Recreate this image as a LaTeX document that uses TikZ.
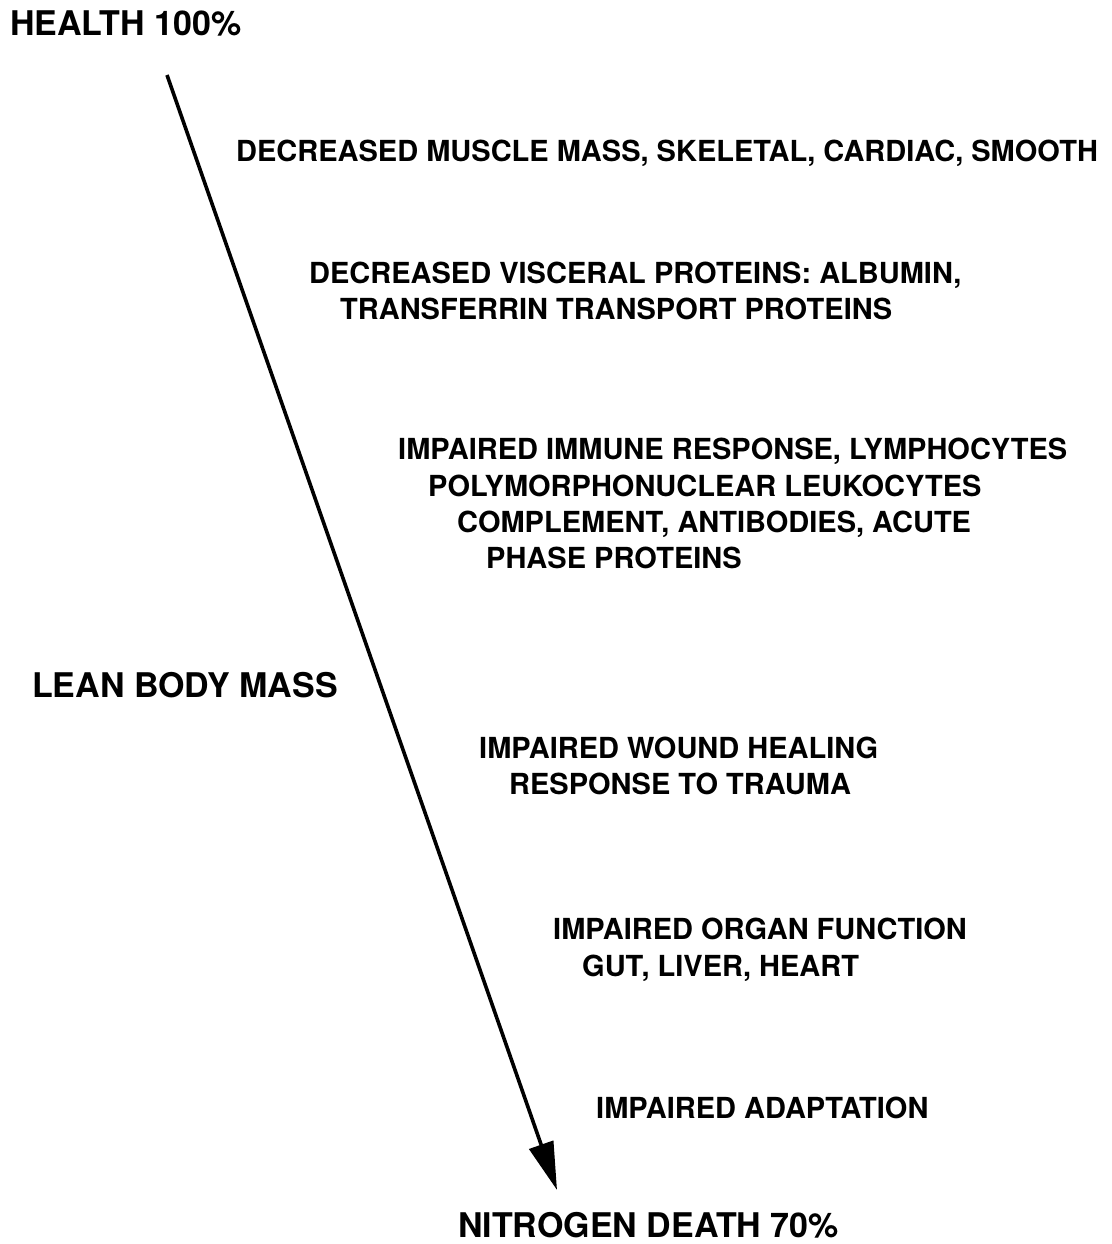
\documentclass[tikz,border=0pt]{standalone}
\usepackage{fontspec}
\setmainfont{TeX Gyre Heros}
\usetikzlibrary{arrows.meta}
\tikzset{
  lbl/.style={anchor=west, inner sep=0pt, text height=0.72em, text depth=0pt,
    font=\fontsize{29}{31}\selectfont\bfseries},
  big/.style={lbl, font=\fontsize{34}{36}\selectfont\bfseries},
  mainarrow/.style={line width=3.6pt, -{Triangle[length=48pt,width=25pt]}}
}
\begin{document}
\begin{tikzpicture}[x=1pt,y=-1pt]
\path[use as bounding box] (0,0) rectangle (1111,1244);
\node[big] (health) at (10,32) {HEALTH 100\%};
\node[big] (lean) at (32,694) {LEAN BODY MASS};
\node[big] (death) at (458,1234) {NITROGEN DEATH 70\%};
\node[lbl] (muscle) at (236,158) {DECREASED MUSCLE MASS, SKELETAL, CARDIAC, SMOOTH};
\node[lbl] (visc1) at (309,280) {DECREASED VISCERAL PROTEINS: ALBUMIN,};
\node[lbl] (visc2) at (340,316) {TRANSFERRIN TRANSPORT PROTEINS};
\node[lbl] (imm1) at (398,456) {IMPAIRED IMMUNE RESPONSE, LYMPHOCYTES};
\node[lbl] (imm2) at (428,493) {POLYMORPHONUCLEAR LEUKOCYTES};
\node[lbl] (imm3) at (457,529) {COMPLEMENT, ANTIBODIES, ACUTE};
\node[lbl] (imm4) at (486,565) {PHASE PROTEINS};
\node[lbl] (wound1) at (479,755) {IMPAIRED WOUND HEALING};
\node[lbl] (wound2) at (509,791) {RESPONSE TO TRAUMA};
\node[lbl] (organ1) at (553,936) {IMPAIRED ORGAN FUNCTION};
\node[lbl] (organ2) at (582,973) {GUT, LIVER, HEART};
\node[lbl] (adapt) at (596,1115) {IMPAIRED ADAPTATION};
\coordinate (start) at (167,75);
\coordinate (tip) at (557,1190);
\draw[mainarrow] (start) -- (tip);
\end{tikzpicture}
\end{document}
